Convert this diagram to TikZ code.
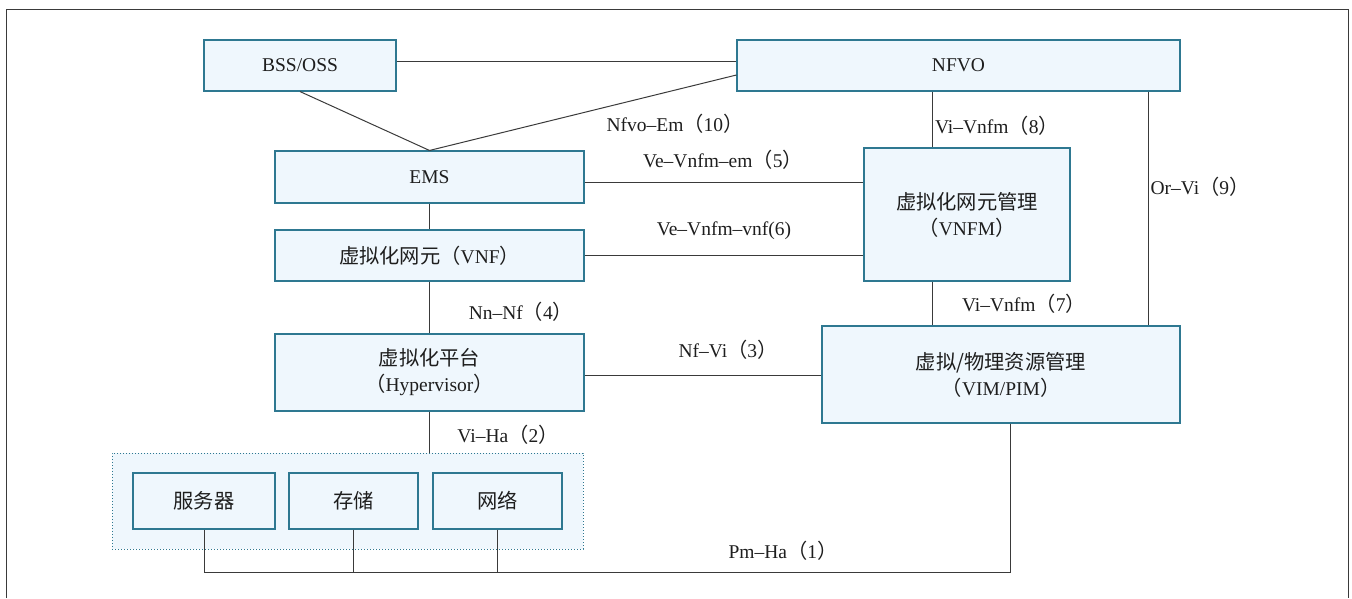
\documentclass[tikz,border=0pt]{standalone}
\usepackage{fontspec}
\setmainfont{Liberation Serif}
\newfontfamily\cjk[Scale=1.04]{Noto Sans CJK SC}
\definecolor{boxfill}{HTML}{EFF7FD}
\definecolor{boxline}{HTML}{2E7891}
\definecolor{conn}{HTML}{3A3A3A}
\definecolor{txt}{HTML}{1E1E1E}
\begin{document}
\begin{tikzpicture}[x=1pt,y=-1pt,
  every node/.style={font=\fontsize{19.5}{26}\selectfont, text=txt},
  blk/.style={draw=boxline, line width=1.1pt, fill=boxfill, inner sep=0pt, align=center},
  hwframe/.style={draw=boxline, line width=1pt, dotted, fill=boxfill, inner sep=0pt},
  wire/.style={draw=conn, line width=1pt},
  lbl/.style={inner sep=0pt, anchor=center}]
\useasboundingbox (0,0) rectangle (1352,598);
\draw[conn, line width=1.2pt] (6.7,598) -- (6.7,9.5) -- (1348.5,9.5) -- (1348.5,598);

% hardware group frame
\node[hwframe, minimum width=471pt, minimum height=96pt] (hw) at (347.5,501) {};

% boxes
\node[blk, minimum width=192pt, minimum height=51pt] (bss) at (300,65.5) {BSS/OSS};
\node[blk, minimum width=443pt, minimum height=51pt] (nfvo) at (958.5,65.5) {NFVO};
\node[blk, minimum width=309pt, minimum height=52pt] (ems) at (429.5,177) {EMS};
\node[blk, minimum width=309pt, minimum height=51pt] (vnf) at (429.5,255.5) {{\cjk 虚拟化网元（}VNF{\cjk ）}};
\node[blk, minimum width=309pt, minimum height=77pt] (hyp) at (429.5,372.5) {{\cjk 虚拟化平台}\\{\cjk （}Hypervisor{\cjk ）}};
\node[blk, minimum width=206pt, minimum height=133pt] (vnfm) at (967,214.5) {{\cjk 虚拟化网元管理}\\{\cjk （}VNFM{\cjk ）}};
\node[blk, minimum width=358pt, minimum height=97pt] (vim) at (1001,374.5) {{\cjk 虚拟/物理资源管理}\\{\cjk （}VIM/PIM{\cjk ）}};
\node[blk, minimum width=142pt, minimum height=56pt] (srv) at (204,501) {\cjk 服务器};
\node[blk, minimum width=129pt, minimum height=56pt] (sto) at (353.5,501) {\cjk 存储};
\node[blk, minimum width=129pt, minimum height=56pt] (net) at (497.5,501) {\cjk 网络};

% helper coordinates
\coordinate (yBN) at (0,61);
\coordinate (yNE) at (0,75);
\coordinate (xV) at (932,0);
\coordinate (xOV) at (1148,0);
\coordinate (yEV) at (0,182);
\coordinate (yVV) at (0,255);
\coordinate (yHV) at (0,375);
\coordinate (xPm) at (1010,0);
\coordinate (yPm) at (0,572);

% connectors
\draw[wire] (bss.east |- yBN) -- (nfvo.west |- yBN);
\draw[wire] (bss.south) -- (ems.north);
\draw[wire] (nfvo.west |- yNE) -- (ems.north);
\draw[wire] (nfvo.south -| xV) -- (vnfm.north -| xV);
\draw[wire] (nfvo.south -| xOV) -- (vim.north -| xOV);
\draw[wire] (ems.east |- yEV) -- (vnfm.west |- yEV);
\draw[wire] (vnf.east |- yVV) -- (vnfm.west |- yVV);
\draw[wire] (ems.south) -- (vnf.north);
\draw[wire] (vnf.south) -- (hyp.north);
\draw[wire] (hyp.east |- yHV) -- (vim.west |- yHV);
\draw[wire] (vnfm.south -| xV) -- (vim.north -| xV);
\draw[wire] (hyp.south) -- (hw.north -| hyp.south);
\draw[wire] (vim.south -| xPm) -- (xPm |- yPm) -- (srv.south |- yPm) -- (srv.south);
\draw[wire] (sto.south) -- (sto.south |- yPm);
\draw[wire] (net.south) -- (net.south |- yPm);

% labels
\node[lbl] (l10) at (675,124) {Nfvo–Em{\cjk （}10{\cjk ）}};
\node[lbl] (l8) at (997,126) {Vi–Vnfm{\cjk （}8{\cjk ）}};
\node[lbl] (l5) at (723,160) {Ve–Vnfm–em{\cjk （}5{\cjk ）}};
\node[lbl] (l6) at (724,231) {Ve–Vnfm–vnf(6)};
\node[lbl] (l9) at (1200,187) {Or–Vi{\cjk （}9{\cjk ）}};
\node[lbl] (l7) at (1024,304) {Vi–Vnfm{\cjk （}7{\cjk ）}};
\node[lbl] (l4) at (521,312) {Nn–Nf{\cjk （}4{\cjk ）}};
\node[lbl] (l3) at (728,350) {Nf–Vi{\cjk （}3{\cjk ）}};
\node[lbl] (l2) at (508,435) {Vi–Ha{\cjk （}2{\cjk ）}};
\node[lbl] (l1) at (783,551) {Pm–Ha{\cjk （}1{\cjk ）}};
\end{tikzpicture}
\end{document}
